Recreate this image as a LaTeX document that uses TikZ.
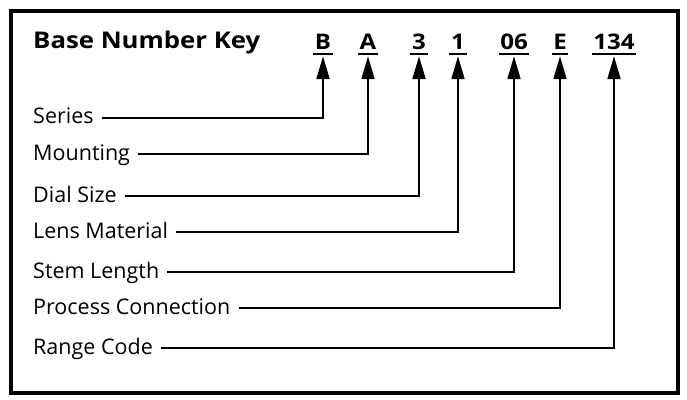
\documentclass[tikz,border=0pt]{standalone}
\usepackage{fontspec}
\setmainfont{Open Sans}
\newfontfamily\keyfont[FakeStretch=1.12]{Open Sans}
\usetikzlibrary{arrows.meta}
\begin{document}
\begin{tikzpicture}[x=1pt,y=-1pt,
  frame/.style={line width=3.5pt},
  titlebox/.style={font=\keyfont\bfseries\fontsize{23}{27}\selectfont, inner sep=0pt, anchor=base west},
  codebox/.style={font=\keyfont\bfseries\fontsize{21.5}{25}\selectfont, inner xsep=1.5pt, inner ysep=0pt, text height=15pt, text depth=5pt, anchor=base},
  lbl/.style={font=\fontsize{21.5}{26}\selectfont, inner sep=0pt, text height=15pt, text depth=3pt, anchor=base west},
  uline/.style={line width=2pt},
  conn/.style={line width=2pt, shorten <=8pt, shorten >=2pt, -{Triangle[length=23pt,width=13pt]}}]
\useasboundingbox (0,0) rectangle (687,399);
\draw[frame] (11,11) rectangle (678,393);
\node[titlebox] (title) at (33,48) {Base Number Key};
% codes
\node[codebox] (cB) at (323,49) {B};
\node[codebox] (cA) at (368,49) {A};
\node[codebox] (c3) at (419,49) {3};
\node[codebox] (c1) at (458,49) {1};
\node[codebox] (c06) at (514,49) {06};
\node[codebox] (cE) at (560,49) {E};
\node[codebox] (c134) at (614,49) {134};
\foreach \c in {cB,cA,c3,c1,c06,cE,c134}{
  \draw[uline] (\c.south west) -- (\c.south east);
}
% labels
\node[lbl] (lS) at (33,123.5) {Series};
\node[lbl] (lM) at (33,160) {Mounting};
\node[lbl] (lD) at (33,202) {Dial Size};
\node[lbl] (lL) at (33,238) {Lens Material};
\node[lbl] (lT) at (33,278) {Stem Length};
\node[lbl] (lP) at (33,314) {Process Connection};
\node[lbl] (lR) at (33,354) {Range Code};
% connectors
\draw[conn] (lS.east) -| (cB.south);
\draw[conn] (lM.east) -| (cA.south);
\draw[conn] (lD.east) -| (c3.south);
\draw[conn] (lL.east) -| (c1.south);
\draw[conn] (lT.east) -| (c06.south);
\draw[conn] (lP.east) -| (cE.south);
\draw[conn] (lR.east) -| (c134.south);
\end{tikzpicture}
\end{document}
